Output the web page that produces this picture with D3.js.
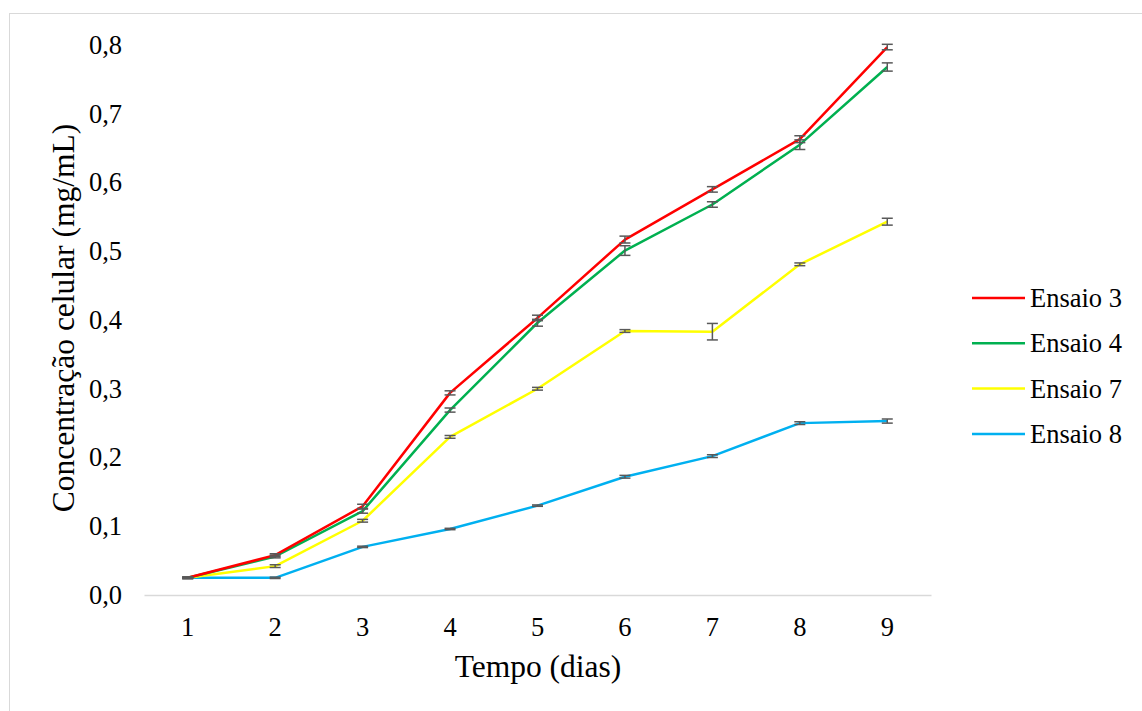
<!DOCTYPE html>
<html>
<head>
<meta charset="utf-8">
<script src="https://cdn.jsdelivr.net/npm/d3@7"></script>
<style>
  body { margin: 0; background: #fff; }
</style>
</head>
<body>
<div id="chart"></div>
<script>
// Data
var days = [1, 2, 3, 4, 5, 6, 7, 8, 9];
var yTicks = [0, 0.1, 0.2, 0.3, 0.4, 0.5, 0.6, 0.7, 0.8];
var seriesNames = ["Ensaio 3", "Ensaio 4", "Ensaio 7", "Ensaio 8"];
var seriesColors = ["#ff0000", "#00b050", "#ffff00", "#00b0f0"];

var ensaio3 = [0.025, 0.058, 0.129, 0.294, 0.403, 0.517, 0.590, 0.663, 0.797];
var ensaio4 = [0.025, 0.056, 0.122, 0.269, 0.396, 0.501, 0.568, 0.655, 0.768];
var ensaio7 = [0.025, 0.042, 0.108, 0.230, 0.300, 0.384, 0.383, 0.481, 0.543];
var ensaio8 = [0.025, 0.025, 0.070, 0.096, 0.130, 0.172, 0.202, 0.250, 0.253];

var err3 = [0.001, 0.002, 0.003, 0.003, 0.004, 0.005, 0.004, 0.005, 0.004];
var err4 = [0.001, 0.002, 0.003, 0.003, 0.005, 0.007, 0.004, 0.007, 0.006];
var err7 = [0.001, 0.002, 0.002, 0.002, 0.002, 0.002, 0.012, 0.002, 0.005];
var err8 = [0.001, 0.001, 0.001, 0.001, 0.001, 0.002, 0.002, 0.002, 0.003];

var values = [ensaio3, ensaio4, ensaio7, ensaio8];
var errors = [err3, err4, err7, err8];

var FONT = "Liberation Serif";

var svg = d3.select("#chart").append("svg")
  .attr("width", 1142)
  .attr("height", 711);

// outer chart frame
svg.append("rect")
  .attr("x", 9.5).attr("y", 13.5)
  .attr("width", 1140).attr("height", 720)
  .attr("fill", "none")
  .attr("stroke", "#d9d9d9");

var margin = { top: 45, left: 144, right: 931, bottom: 595 };

var x = d3.scaleBand().domain(days).range([margin.left, margin.right]);
var y = d3.scaleLinear().domain([0, 0.8]).range([margin.bottom, margin.top]);
var cx = function (d) { return x(d) + x.bandwidth() / 2; };

// x axis
var xAxis = svg.append("g")
  .attr("transform", "translate(0," + margin.bottom + ")")
  .call(d3.axisBottom(x).tickSize(0).tickPadding(22));
xAxis.select(".domain").attr("stroke", "#d9d9d9").attr("stroke-width", 1.5);
xAxis.selectAll("text")
  .attr("fill", "#000")
  .style("font-family", FONT)
  .style("font-size", "26.5px");

// y axis
var yAxis = svg.append("g")
  .attr("transform", "translate(" + (margin.left - 3) + ",0)")
  .call(d3.axisLeft(y).tickValues(yTicks).tickSize(0).tickPadding(19)
    .tickFormat(function (d) { return d3.format(".1f")(d).replace(".", ","); }));
yAxis.select(".domain").remove();
yAxis.selectAll("text")
  .attr("fill", "#000")
  .style("font-family", FONT)
  .style("font-size", "26.5px");

var line = d3.line()
  .x(function (d, i) { return cx(days[i]); })
  .y(function (d) { return y(d); });

// lines, drawn from last to first so red sits on top
for (var s = values.length - 1; s >= 0; s--) {
  svg.append("path")
    .datum(values[s])
    .attr("fill", "none")
    .attr("stroke", seriesColors[s])
    .attr("stroke-width", 2.5)
    .attr("stroke-linejoin", "round")
    .attr("d", line);
}

// error bars
values.forEach(function (vals, s) {
  var g = svg.append("g").attr("stroke", "#595959").attr("stroke-width", 1.5);
  vals.forEach(function (v, i) {
    var e = errors[s][i];
    var px = cx(days[i]);
    g.append("line")
      .attr("x1", px).attr("x2", px)
      .attr("y1", y(v - e)).attr("y2", y(v + e));
    [v - e, v + e].forEach(function (t) {
      g.append("line")
        .attr("x1", px - 5.5).attr("x2", px + 5.5)
        .attr("y1", y(t)).attr("y2", y(t));
    });
  });
});

// legend
var legend = svg.append("g").attr("transform", "translate(972,298)");
seriesNames.forEach(function (name, i) {
  var row = legend.append("g").attr("transform", "translate(0," + i * 45.3 + ")");
  row.append("line")
    .attr("x1", 0).attr("x2", 53)
    .attr("stroke", seriesColors[i])
    .attr("stroke-width", 2.5);
  row.append("text")
    .attr("x", 58).attr("y", 9)
    .style("font-family", FONT)
    .style("font-size", "26.5px")
    .text(name);
});

// axis titles
svg.append("text")
  .attr("x", 538).attr("y", 677)
  .attr("text-anchor", "middle")
  .style("font-family", FONT)
  .style("font-size", "31.5px")
  .text("Tempo (dias)");

svg.append("text")
  .attr("transform", "translate(74,318) rotate(-90)")
  .attr("text-anchor", "middle")
  .style("font-family", FONT)
  .style("font-size", "31.5px")
  .text("Concentração celular (mg/mL)");
</script>
</body>
</html>
